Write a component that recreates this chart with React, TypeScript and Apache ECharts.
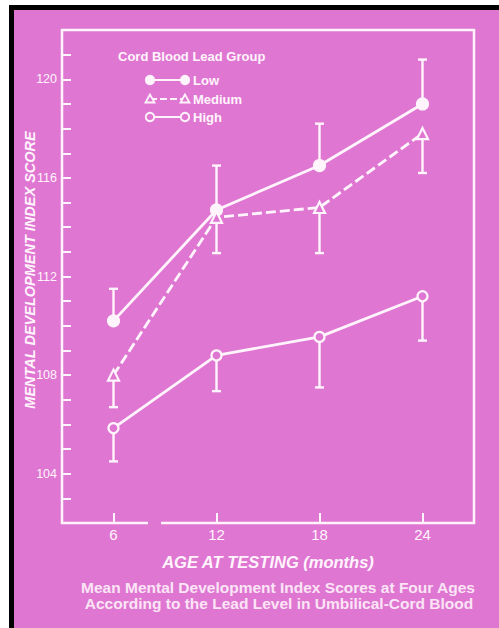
import React, { useEffect, useRef } from "react";
import * as echarts from "echarts";

const ages = [6, 12, 18, 24];
const xTickValues = [6, 12, 18, 24];
const lowMean = [110.2, 114.7, 116.5, 119.0];
const lowErrTop = [111.5, 116.5, 118.2, 120.8];
const mediumMean = [108.0, 114.4, 114.8, 117.8];
const mediumErrBottom = [106.7, 112.95, 112.95, 116.2];
const highMean = [105.85, 108.8, 109.55, 111.2];
const highErrBottom = [104.5, 107.35, 107.5, 109.4];
const groupNames = ["Low", "Medium", "High"];

const PINK = "#df77d2";
const WHITE = "#fff4fc";
const FONT = "'Liberation Sans', Arial, Helvetica, sans-serif";

export default function App() {
  const ref = useRef<HTMLDivElement>(null);

  useEffect(() => {
    if (!ref.current) return;
    const chart = echarts.init(ref.current, undefined, { renderer: "svg" });

    const errSeries = (name: string, means: number[], ends: number[]) => ({
      name: name + " SE",
      type: "custom",
      z: 1,
      silent: true,
      data: ages.map((a, i) => [a, means[i], ends[i]]),
      encode: { x: 0, y: [1, 2] },
      renderItem: (_p: any, api: any) => {
        const x = api.value(0);
        const p0 = api.coord([x, api.value(1)]);
        const p1 = api.coord([x, api.value(2)]);
        const st = { stroke: WHITE, lineWidth: 2.4 };
        return {
          type: "group",
          children: [
            { type: "line", shape: { x1: p0[0], y1: p0[1], x2: p1[0], y2: p1[1] }, style: st },
            { type: "line", shape: { x1: p1[0] - 4.5, y1: p1[1], x2: p1[0] + 4.5, y2: p1[1] }, style: st },
          ],
        };
      },
    });

    const lineSeries = (name: string, vals: number[], symbol: string, size: number, fill: string, dashed: boolean) => ({
      name,
      type: "line",
      z: 3,
      data: ages.map((a, i) => [a, vals[i]]),
      symbol,
      symbolSize: size,
      showSymbol: true,
      lineStyle: { color: WHITE, width: 2.8, type: dashed ? [10, 4] : "solid" },
      itemStyle: { color: fill, borderColor: WHITE, borderWidth: 2.2 },
    });

    const legendRow = (y: number, kind: string, label: string) => {
      const els: any[] = [];
      els.push({
        type: "line",
        shape: { x1: 150, y1: y, x2: 185, y2: y },
        style: { stroke: WHITE, lineWidth: 2.2, lineDash: kind === "tri" ? [7, 3] : null },
      });
      [150, 185].forEach((cx) => {
        if (kind === "tri") {
          els.push({
            type: "polygon",
            shape: { points: [[cx, y - 4.5], [cx - 4.5, y + 3.5], [cx + 4.5, y + 3.5]] },
            style: { fill: PINK, stroke: WHITE, lineWidth: 1.8 },
          });
        } else {
          els.push({
            type: "circle",
            shape: { cx, cy: y, r: 4.2 },
            style: { fill: kind === "filled" ? WHITE : PINK, stroke: WHITE, lineWidth: 1.8 },
          });
        }
      });
      els.push({
        type: "text",
        x: 193,
        y,
        style: {
          text: label,
          fill: WHITE,
          font: `bold 13px ${FONT}`,
          verticalAlign: "middle",
        },
      });
      return els;
    };

    chart.setOption({
      animation: false,
      backgroundColor: "transparent",
      grid: {
        left: 62,
        right: 25,
        top: 30,
        bottom: 105,
        show: true,
        borderColor: WHITE,
        borderWidth: 2.5,
        backgroundColor: "transparent",
      },
      xAxis: {
        type: "value",
        min: 3,
        max: 27,
        interval: 3,
        axisLine: { show: false },
        splitLine: { show: false },
        axisTick: {
          show: true,
          inside: true,
          length: 10,
          customValues: xTickValues,
          lineStyle: { color: WHITE, width: 2 },
        },
        axisLabel: {
          customValues: xTickValues,
          color: WHITE,
          fontSize: 15,
          fontFamily: FONT,
          margin: 4,
        },
        name: "AGE AT TESTING (months)",
        nameLocation: "middle",
        nameGap: 30,
        nameTextStyle: {
          color: WHITE,
          fontSize: 16.5,
          fontStyle: "italic",
          fontWeight: "bold",
          fontFamily: FONT,
        },
      },
      yAxis: {
        type: "value",
        min: 102,
        max: 122,
        interval: 1,
        axisLine: { show: false },
        splitLine: { show: false },
        axisTick: {
          show: true,
          inside: true,
          length: 9,
          lineStyle: { color: WHITE, width: 2 },
        },
        axisLabel: {
          color: WHITE,
          fontSize: 12.5,
          fontFamily: FONT,
          margin: 5,
          formatter: (v: number) => (v % 4 === 0 && v > 102 && v < 122 ? String(v) : ""),
        },
      },
      graphic: [
        {
          type: "rect",
          z: 100,
          shape: { x: 148, y: 518, width: 13, height: 9 },
          style: { fill: PINK },
        },
        {
          type: "text",
          x: 30,
          y: 270,
          rotation: Math.PI / 2,
          style: {
            text: "MENTAL DEVELOPMENT INDEX SCORE",
            fill: WHITE,
            font: `italic bold 14.5px ${FONT}`,
            align: "center",
            verticalAlign: "middle",
          },
        },
        {
          type: "text",
          x: 118,
          y: 56,
          style: {
            text: "Cord Blood Lead Group",
            fill: WHITE,
            font: `bold 13px ${FONT}`,
            verticalAlign: "middle",
          },
        },
        ...legendRow(80, "filled", groupNames[0]),
        ...legendRow(99, "tri", groupNames[1]),
        ...legendRow(117, "open", groupNames[2]),
        {
          type: "text",
          x: 278,
          y: 587,
          style: {
            text: "Mean Mental Development Index Scores at Four Ages",
            fill: "#fbe4f5",
            font: `bold 15.5px ${FONT}`,
            align: "center",
            verticalAlign: "middle",
          },
        },
        {
          type: "text",
          x: 279,
          y: 603,
          style: {
            text: "According to the Lead Level in Umbilical-Cord Blood",
            fill: "#fbe4f5",
            font: `bold 15.5px ${FONT}`,
            align: "center",
            verticalAlign: "middle",
          },
        },
      ],
      series: [
        errSeries("Low", lowMean, lowErrTop),
        errSeries("Medium", mediumMean, mediumErrBottom),
        errSeries("High", highMean, highErrBottom),
        lineSeries(groupNames[0], lowMean, "circle", 11, WHITE, false),
        lineSeries(groupNames[1], mediumMean, "triangle", 11, PINK, true),
        lineSeries(groupNames[2], highMean, "circle", 10, PINK, false),
      ],
    });

    return () => chart.dispose();
  }, []);

  return (
    <div style={{ position: "fixed", left: 0, top: 0, width: 499, height: 628, background: "#ffffff", overflow: "hidden" }}>
      <div style={{ position: "absolute", left: 9, top: 5, width: 500, height: 640, background: "#000000" }} />
      <div style={{ position: "absolute", left: 14, top: 10, width: 500, height: 640, background: PINK }} />
      <div ref={ref} style={{ position: "absolute", left: 0, top: 0, width: 499, height: 628 }} />
    </div>
  );
}
